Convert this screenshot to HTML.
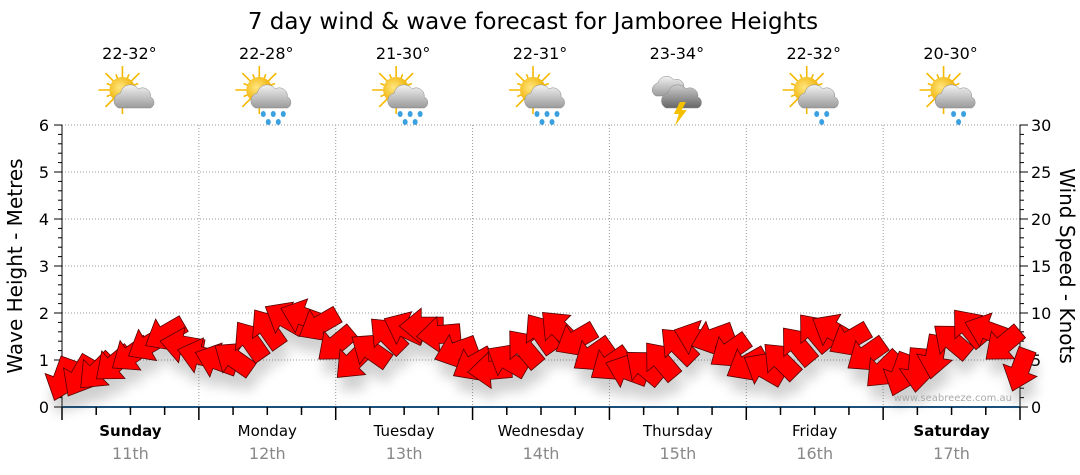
<!DOCTYPE html>
<html><head><meta charset="utf-8"><style>
body{margin:0;background:#fff;}
svg{display:block;font-family:"DejaVu Sans","Liberation Sans",sans-serif;}
</style></head><body>
<svg id="c" width="1080" height="475">
<defs>
<filter id="sh" x="-50%" y="-50%" width="200%" height="200%"><feGaussianBlur stdDeviation="6"/></filter>
<radialGradient id="sun" cx="0.4" cy="0.4" r="0.6"><stop offset="0" stop-color="#ffe680"/><stop offset="1" stop-color="#f0b000"/></radialGradient>
<linearGradient id="cl" x1="0" y1="0" x2="0" y2="1"><stop offset="0" stop-color="#f2f2f2"/><stop offset="1" stop-color="#9a9a9a"/></linearGradient>
<linearGradient id="dk" x1="0" y1="0" x2="0" y2="1"><stop offset="0" stop-color="#cfcfcf"/><stop offset="1" stop-color="#666"/></linearGradient>
</defs>
<text x="533" y="29" text-anchor="middle" font-size="23" fill="#000">7 day wind &amp; wave forecast for Jamboree Heights</text>
<g id="grid"></g><g id="axes"></g><g id="days"></g><g id="shadow" filter="url(#sh)" opacity="0.25"></g><g id="arrows"></g>
<text x="1012" y="401" text-anchor="end" font-size="10" fill="#aaa">www.seabreeze.com.au</text>
<text transform="translate(22,266) rotate(-90)" text-anchor="middle" font-size="20" fill="#000">Wave Height - Metres</text>
<text transform="translate(1060,266) rotate(90)" text-anchor="middle" font-size="20" fill="#000">Wind Speed - Knots</text>
</svg>
<script>
const dayNames=["Sunday","Monday","Tuesday","Wednesday","Thursday","Friday","Saturday"];
const dayDates=["11th","12th","13th","14th","15th","16th","17th"];
const temps=["22-32°","22-28°","21-30°","22-31°","23-34°","22-32°","20-30°"];
const icons=["cloud","rain","rain","rain","storm","shower","shower"];
const leftTicks=[0,1,2,3,4,5,6];
const rightTicks=[0,5,10,15,20,25,30];
// 3-hourly wind speed (knots) and arrow heading (deg, screen, 0=right, clockwise)
const windKnots=[2.9,3.2,3.7,4.5,5.5,6.6,7.7,6.6,5.5,5.0,5.2,7.1,8.4,9.5,9.7,8.7,6.6,4.8,6.1,7.7,8.4,8.6,7.7,5.9,4.5,3.9,5.0,6.3,7.9,8.4,7.1,5.5,4.5,3.9,4.3,5.0,6.6,7.4,7.3,5.9,4.5,4.1,5.0,6.6,8.0,8.2,7.1,5.5,3.9,3.4,3.9,5.3,7.1,8.5,8.2,6.6,3.9];
const windDir=[110,120,135,140,145,150,150,190,195,200,215,235,235,210,200,150,140,135,215,225,205,180,175,160,150,175,210,230,235,225,150,145,145,200,220,230,225,200,160,145,150,210,225,230,230,210,150,145,135,110,95,100,220,230,200,140,110];
const X0=62,X1=1020,Y0=407,Y1=125;
const xs=h=>X0+(X1-X0)*h/168;
const yL=v=>Y0-(Y0-Y1)*v/6;
const yR=v=>Y0-(Y0-Y1)*v/30;
const NS="http://www.w3.org/2000/svg";
function mk(tag,attrs,parent,txt){const e=document.createElementNS(NS,tag);for(const k in attrs)e.setAttribute(k,attrs[k]);if(txt!==undefined)e.textContent=txt;document.getElementById(parent).appendChild(e);return e;}
leftTicks.forEach(v=>{if(v>0){const l=mk("line",{x1:X0,x2:X1,y1:yL(v),y2:yL(v),stroke:"#999","stroke-dasharray":"1,2"},"grid");

}});
for(let d=1;d<7;d++){const l=mk("line",{x1:xs(d*24),x2:xs(d*24),y1:Y1,y2:Y0,stroke:"#999","stroke-dasharray":"1,2"},"grid");

}
mk("line",{x1:X0,x2:X0,y1:Y1,y2:Y0,stroke:"#000"},"axes");
mk("line",{x1:X1,x2:X1,y1:Y1,y2:Y0,stroke:"#000"},"axes");
mk("line",{x1:X0,x2:X1,y1:Y0,y2:Y0,stroke:"#1a4f7a","stroke-width":2},"axes");
for(let i=0;i<=30;i++){const v=i/5;mk("line",{x1:X0-(i%5?4:8),x2:X0,y1:yL(v),y2:yL(v),stroke:"#000"},"axes");mk("line",{x1:X1,x2:X1+(i%5?4:8),y1:yL(v),y2:yL(v),stroke:"#000"},"axes");}
leftTicks.forEach(v=>{const t=mk("text",{x:X0-13,y:yL(v)+6,"text-anchor":"end","font-size":16},"axes",v);

});
rightTicks.forEach(v=>{const t=mk("text",{x:X1+11,y:yR(v)+6,"font-size":16},"axes",v);

});
for(let h=0;h<=168;h+=6){mk("line",{x1:xs(h),x2:xs(h),y1:Y0,y2:Y0+(h%24?8:13),stroke:"#000","stroke-width":1.5},"axes");}
function icon(cx,cy,type,g){
 if(type!=="storm"){for(let i=0;i<16;i++){const a=i*Math.PI/8,r=i%2?17:24;const l=document.createElementNS(NS,"line");l.setAttribute("x1",cx-8);l.setAttribute("y1",cy-6);l.setAttribute("x2",cx-8+r*Math.cos(a));l.setAttribute("y2",cy-6+r*Math.sin(a));l.setAttribute("stroke","#f5b800");l.setAttribute("stroke-width",1.6);g.appendChild(l);}
 const s=document.createElementNS(NS,"circle");s.setAttribute("cx",cx-8);s.setAttribute("cy",cy-6);s.setAttribute("r",13);s.setAttribute("fill","url(#sun)");g.appendChild(s);}
 const ox=cx+4,oy=cy+2;
 if(type==="storm"){const c2=document.createElementNS(NS,"path");c2.setAttribute("d",`M${ox-26},${oy-2} a7,7 0 0 1 2,-13 a9,9 0 0 1 16,-3 a7,7 0 0 1 10,7 a5,5 0 0 1 0,9 z`);c2.setAttribute("fill","url(#cl)");c2.setAttribute("stroke","#888");c2.setAttribute("stroke-width",0.5);g.appendChild(c2);}
 const cl=document.createElementNS(NS,"path");
 cl.setAttribute("d",`M${ox-16},${oy+10} a8,8 0 0 1 2,-15 a10,10 0 0 1 18,-4 a8,8 0 0 1 12,8 a6,6 0 0 1 0,11 z`);
 cl.setAttribute("fill",type==="storm"?"url(#dk)":"url(#cl)");cl.setAttribute("stroke","#888");cl.setAttribute("stroke-width",0.5);g.appendChild(cl);
 if(type==="storm"){const b=document.createElementNS(NS,"path");b.setAttribute("d",`M${cx+2},${cy+6} l-6,12 h5 l-4,12 l12,-16 h-5 l4,-8 z`);b.setAttribute("fill","#f5c000");g.appendChild(b);}
 if(type==="rain"||type==="shower"){const pts=type==="rain"?[[-8,16],[2,16],[12,16],[-3,24],[7,24]]:[[-2,16],[8,16],[3,24]];pts.forEach(p=>{const d=document.createElementNS(NS,"ellipse");d.setAttribute("cx",ox+p[0]);d.setAttribute("cy",oy+p[1]);d.setAttribute("rx",2.5);d.setAttribute("ry",3);d.setAttribute("fill","#3aa0e0");g.appendChild(d);});}
}
dayNames.forEach((n,i)=>{const cx=xs(i*24+12);const bold=(i===0||i===6);
 const t=mk("text",{x:cx,y:436,"text-anchor":"middle","font-size":15,"font-weight":bold?"bold":"normal"},"days",n);
 
 
 const d=mk("text",{x:cx,y:459,"text-anchor":"middle","font-size":16,fill:"#888"},"days",dayDates[i]);
 
 
 const tp=mk("text",{x:cx-1,y:59,"text-anchor":"middle","font-size":16},"days",temps[i]);
 
 
 const g=mk("g",{},"days");
 
 
 icon(cx,96,icons[i],g);
});
function arrowPath(){return "M22,0 L0,-18 L0,-9 L-22,-9 L-22,9 L0,9 L0,18 Z";}
windKnots.forEach((k,i)=>{const h=i*3;const x=xs(h),y=yR(k);
 const s=mk("path",{d:arrowPath(),transform:`translate(${x+3},${y+14}) rotate(${windDir[i]})`,fill:"#444"},"shadow");
 
 
});
windKnots.forEach((k,i)=>{const h=i*3;const x=xs(h),y=yR(k);
 const a=mk("path",{d:arrowPath(),transform:`translate(${x},${y}) rotate(${windDir[i]})`,fill:"#ff0000",stroke:"#500","stroke-width":0.8},"arrows");
 
 
});
</script>
</body></html>
